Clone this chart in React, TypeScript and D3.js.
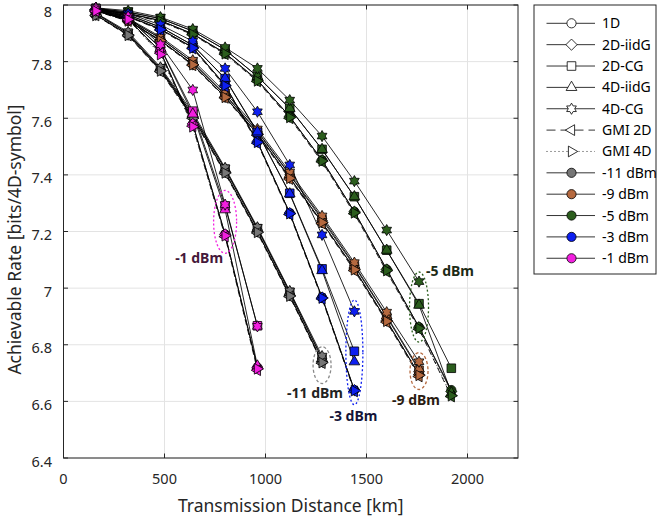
import React from 'react';
import * as d3 from 'd3';

// ---------- data ----------
const distances = [160, 320, 480, 640, 800, 960, 1120, 1280, 1440, 1600, 1760, 1920];
const schemes = ['1D', '2D-iidG', '2D-CG', '4D-iidG', '4D-CG', 'GMI 2D', 'GMI 4D'];
const powers = ['-11 dBm', '-9 dBm', '-5 dBm', '-3 dBm', '-1 dBm'];
const powerColors = ['#767676', '#b5693f', '#2b5d1d', '#0d1ff0', '#f21fdf'];

// rows follow `schemes`, columns follow `distances`
const rateM11 = [
  [7.965, 7.895, 7.77, 7.605, 7.41, 7.2, 6.975, 6.74],
  [7.965, 7.895, 7.77, 7.605, 7.41, 7.2, 6.975, 6.74],
  [7.97, 7.9, 7.775, 7.612, 7.42, 7.21, 6.985, 6.75],
  [7.97, 7.9, 7.775, 7.612, 7.42, 7.21, 6.985, 6.752],
  [7.972, 7.905, 7.78, 7.62, 7.425, 7.215, 6.99, 6.76],
  [7.963, 7.892, 7.765, 7.6, 7.405, 7.195, 6.97, 6.735],
  [7.963, 7.893, 7.767, 7.6, 7.407, 7.197, 6.972, 6.737],
];
const rateM9 = [
  [7.98, 7.945, 7.875, 7.79, 7.675, 7.545, 7.39, 7.232, 7.068, 6.885, 6.695],
  [7.98, 7.945, 7.875, 7.79, 7.675, 7.545, 7.39, 7.232, 7.068, 6.885, 6.695],
  [7.982, 7.95, 7.882, 7.797, 7.682, 7.552, 7.4, 7.242, 7.078, 6.898, 6.71],
  [7.982, 7.95, 7.883, 7.798, 7.684, 7.555, 7.402, 7.248, 7.082, 6.902, 6.715],
  [7.984, 7.953, 7.888, 7.805, 7.692, 7.562, 7.41, 7.255, 7.09, 6.915, 6.74],
  [7.978, 7.943, 7.872, 7.787, 7.672, 7.54, 7.385, 7.228, 7.062, 6.88, 6.688],
  [7.979, 7.944, 7.874, 7.789, 7.674, 7.543, 7.388, 7.232, 7.065, 6.883, 6.692],
];
const rateM5 = [
  [7.985, 7.97, 7.945, 7.898, 7.83, 7.735, 7.606, 7.452, 7.27, 7.066, 6.862, 6.64],
  [7.985, 7.97, 7.945, 7.898, 7.83, 7.735, 7.606, 7.452, 7.27, 7.066, 6.862, 6.635],
  [7.988, 7.975, 7.952, 7.908, 7.842, 7.748, 7.635, 7.49, 7.323, 7.134, 6.945, 6.717],
  [7.988, 7.975, 7.952, 7.908, 7.842, 7.748, 7.635, 7.49, 7.323, 7.134, 6.94, 6.63],
  [7.99, 7.98, 7.957, 7.915, 7.85, 7.776, 7.664, 7.537, 7.378, 7.205, 7.023],
  [7.983, 7.968, 7.942, 7.895, 7.826, 7.73, 7.6, 7.446, 7.263, 7.058, 6.855, 6.617],
  [7.984, 7.969, 7.943, 7.896, 7.828, 7.732, 7.603, 7.449, 7.266, 7.062, 6.858, 6.62],
];
const rateM3 = [
  [7.985, 7.96, 7.915, 7.85, 7.717, 7.517, 7.265, 6.967, 6.64],
  [7.985, 7.96, 7.915, 7.85, 7.717, 7.517, 7.265, 6.967, 6.64],
  [7.988, 7.965, 7.922, 7.858, 7.74, 7.55, 7.335, 7.068, 6.777],
  [7.988, 7.965, 7.922, 7.858, 7.741, 7.552, 7.333, 7.062, 6.74],
  [7.99, 7.97, 7.93, 7.872, 7.776, 7.623, 7.435, 7.188, 6.918],
  [7.983, 7.958, 7.912, 7.846, 7.712, 7.512, 7.26, 6.962, 6.635],
  [7.984, 7.959, 7.913, 7.848, 7.715, 7.515, 7.263, 6.965, 6.638],
];
const rateM1 = [
  [7.98, 7.95, 7.835, 7.58, 7.19, 6.72],
  [7.98, 7.95, 7.835, 7.58, 7.19, 6.72],
  [7.985, 7.955, 7.85, 7.625, 7.29, 6.867],
  [7.985, 7.955, 7.848, 7.615, 7.277, 6.725],
  [7.99, 7.96, 7.86, 7.7, 7.295, 6.865],
  [7.978, 7.948, 7.83, 7.572, 7.182, 6.71],
  [7.979, 7.949, 7.825, 7.57, 7.185, 6.715],
];
const ratesByPower = [rateM11, rateM9, rateM5, rateM3, rateM1];

// ellipse annotations
const annLabels = ['-1 dBm', '-11 dBm', '-3 dBm', '-9 dBm', '-5 dBm'];
const annDistance = [800, 1280, 1440, 1760, 1760];
const annCenter = [7.234, 6.728, 6.773, 6.707, 6.933];
const annHalfSpan = [0.111, 0.065, 0.185, 0.065, 0.124];

const xTicks = [0, 500, 1000, 1500, 2000];
const yTicks = [6.4, 6.6, 6.8, 7, 7.2, 7.4, 7.6, 7.8, 8];

// ---------- layout / style ----------
const W = 665;
const H = 518;
const PL = 63.5, PR = 518, PT = 5, PB = 458;
const FONT = '"Noto Sans", "Open Sans", sans-serif';
const annStyle = [
  { rx: 11.5, dash: '2,2.2', dx: -26, dy: 41, anchor: 'middle', text: '#45183a', stroke: '#f21fdf' },
  { rx: 9, dash: '3,2.2', dx: -7, dy: 33, anchor: 'middle', text: '#222222', stroke: '#8a8a8a' },
  { rx: 8.5, dash: '2,2.2', dx: -1, dy: 69, anchor: 'middle', text: '#141438', stroke: '#0d1ff0' },
  { rx: 9, dash: '3,2.2', dx: -3, dy: 34, anchor: 'middle', text: '#2a1b12', stroke: '#b5693f' },
  { rx: 9.5, dash: '2,2.2', dx: 7, dy: -31, anchor: 'start', text: '#1c2a16', stroke: '#2b5d1d' },
];

function markerPath(kind: number): string {
  const s3 = Math.sqrt(3);
  switch (kind) {
    case 0: {
      const r = 4.6;
      return `M${r},0A${r},${r} 0 1,1 ${-r},0A${r},${r} 0 1,1 ${r},0Z`;
    }
    case 1: {
      const a = 5.6;
      return `M0,${-a}L${a},0L0,${a}L${-a},0Z`;
    }
    case 2: {
      const a = 4.3;
      return `M${-a},${-a}L${a},${-a}L${a},${a}L${-a},${a}Z`;
    }
    case 3: {
      const r = 6.2;
      return `M0,${-r}L${(r * s3) / 2},${r / 2}L${(-r * s3) / 2},${r / 2}Z`;
    }
    case 4: {
      const R = 5.6, ri = R / s3;
      const pts: string[] = [];
      for (let i = 0; i < 12; i++) {
        const ang = -Math.PI / 2 + (i * Math.PI) / 6;
        const rr = i % 2 === 0 ? R : ri;
        pts.push(`${(rr * Math.cos(ang)).toFixed(2)},${(rr * Math.sin(ang)).toFixed(2)}`);
      }
      return 'M' + pts.join('L') + 'Z';
    }
    case 5: {
      const r = 6.2;
      return `M${-r},0L${r / 2},${(-r * s3) / 2}L${r / 2},${(r * s3) / 2}Z`;
    }
    default: {
      const r = 6.2;
      return `M${r},0L${-r / 2},${(-r * s3) / 2}L${-r / 2},${(r * s3) / 2}Z`;
    }
  }
}

function lineDash(kind: number): string | undefined {
  if (kind === 5) return '6,4';
  if (kind === 6) return '1,2.5';
  return undefined;
}

export default function App() {
  const x = d3.scaleLinear().domain([0, 2250]).range([PL, PR]);
  const y = d3.scaleLinear().domain([6.4, 8]).range([PB, PT]);
  const line = d3
    .line<[number, number]>()
    .x((d) => x(d[0]))
    .y((d) => y(d[1]));

  const series: JSX.Element[] = [];
  ratesByPower.forEach((rows, pi) => {
    rows.forEach((vals, si) => {
      const pts: [number, number][] = vals.map((v, k) => [distances[k], v]);
      series.push(
        <path
          key={`l-${pi}-${si}`}
          d={line(pts) || ''}
          fill="none"
          stroke="#000"
          strokeWidth={0.85}
          strokeDasharray={lineDash(si)}
        />
      );
    });
  });
  ratesByPower.forEach((rows, pi) => {
    rows.forEach((vals, si) => {
      vals.forEach((v, k) => {
        series.push(
          <path
            key={`m-${pi}-${si}-${k}`}
            d={markerPath(si)}
            transform={`translate(${x(distances[k])},${y(v)})`}
            fill={powerColors[pi]}
            stroke="#000"
            strokeWidth={0.8}
          />
        );
      });
    });
  });

  const legendRows = [
    ...schemes.map((s, i) => ({ label: s, kind: i, fill: '#fff', dash: i === 5 ? '9,5' : i === 6 ? '1,3' : undefined })),
    ...powers.map((p, i) => ({ label: p, kind: 0, fill: powerColors[i], dash: undefined as string | undefined })),
  ];
  const lgX = 534, lgY = 5, lgW = 122, lgH = 269;
  const rowY0 = 23.3, rowStep = 21.36;

  return (
    <svg
      width={W}
      height={H}
      style={{ position: 'absolute', left: 0, top: 0, background: '#fff' }}
      fontFamily={FONT}
    >
      <rect x={0} y={0} width={W} height={H} fill="#fff" />
      {xTicks.map((t) => (
        <line key={`gx${t}`} x1={x(t)} x2={x(t)} y1={PT} y2={PB} stroke="#e3e3e3" strokeWidth={1} />
      ))}
      {yTicks.map((t) => (
        <line key={`gy${t}`} x1={PL} x2={PR} y1={y(t)} y2={y(t)} stroke="#e3e3e3" strokeWidth={1} />
      ))}
      {series}
      {annLabels.map((lab, i) => {
        const st = annStyle[i];
        const cx = x(annDistance[i]);
        const cy = y(annCenter[i]);
        const ry = y(annCenter[i] - annHalfSpan[i]) - cy;
        return (
          <g key={`a${i}`}>
            <ellipse cx={cx} cy={cy} rx={st.rx} ry={ry} fill="none" stroke={st.stroke} strokeWidth={1.3} strokeDasharray={st.dash} />
            <text x={cx + st.dx} y={cy + st.dy} textAnchor={st.anchor} fontSize={14} fontWeight="bold" fill={st.text}>
              {lab}
            </text>
          </g>
        );
      })}
      <rect x={PL} y={PT} width={PR - PL} height={PB - PT} fill="none" stroke="#262626" strokeWidth={1} />
      {xTicks.map((t) => (
        <g key={`tx${t}`}>
          <line x1={x(t)} x2={x(t)} y1={PB} y2={PB - 4.5} stroke="#262626" />
          <line x1={x(t)} x2={x(t)} y1={PT} y2={PT + 4.5} stroke="#262626" />
          <text x={x(t)} y={PB + 26} textAnchor="middle" fontSize={14.5} fill="#262626">
            {t}
          </text>
        </g>
      ))}
      {yTicks.map((t) => (
        <g key={`ty${t}`}>
          <line x1={PL} x2={PL + 4.5} y1={y(t)} y2={y(t)} stroke="#262626" />
          <line x1={PR} x2={PR - 4.5} y1={y(t)} y2={y(t)} stroke="#262626" />
          <text x={PL - 11.5} y={Math.max(y(t) + 8.5, 16.5)} textAnchor="end" fontSize={14.5} fill="#262626">
            {String(t)}
          </text>
        </g>
      ))}
      <text x={(PL + PR) / 2} y={H - 6} textAnchor="middle" fontSize={17.5} fill="#262626">
        Transmission Distance [km]
      </text>
      <text
        transform={`translate(21,${(PT + PB) / 2 + 8}) rotate(-90)`}
        textAnchor="middle"
        fontSize={17.5}
        fill="#262626"
      >
        Achievable Rate [bits/4D-symbol]
      </text>
      <rect x={lgX} y={lgY} width={lgW} height={lgH} fill="#fff" stroke="#262626" strokeWidth={1} />
      {legendRows.map((r, i) => {
        const ry = rowY0 + i * rowStep;
        return (
          <g key={`lg${i}`}>
            <line x1={546.5} x2={595} y1={ry} y2={ry} stroke="#000" strokeWidth={0.8} strokeDasharray={r.dash} />
            <path d={markerPath(r.kind)} transform={`translate(571.5,${ry})`} fill={r.fill} stroke="#000" strokeWidth={0.8} />
            <text x={602} y={ry + 5} fontSize={14} fill="#000">
              {r.label}
            </text>
          </g>
        );
      })}
    </svg>
  );
}
